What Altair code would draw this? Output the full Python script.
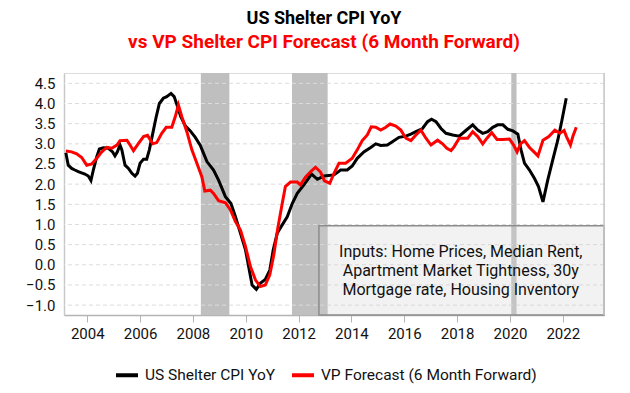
import altair as alt
import pandas as pd

# ---- data ----
cpi_year = [2003.19, 2003.28, 2003.41, 2003.53, 2003.66, 2003.91, 2004.04, 2004.14, 2004.23, 2004.36,
            2004.46, 2004.61, 2004.80, 2004.96, 2005.05, 2005.14, 2005.24, 2005.31, 2005.43, 2005.56,
            2005.69, 2005.81, 2005.90, 2006.00, 2006.13, 2006.25, 2006.35, 2006.48, 2006.61, 2006.73,
            2006.88, 2007.01, 2007.17, 2007.29, 2007.42, 2007.54, 2007.71, 2007.90, 2008.09, 2008.28,
            2008.43, 2008.53, 2008.78, 2008.97, 2009.23, 2009.44, 2009.61, 2009.80, 2009.99, 2010.11,
            2010.24, 2010.40, 2010.55, 2010.74, 2010.91, 2011.04, 2011.19, 2011.38, 2011.57, 2011.76,
            2011.95, 2012.20, 2012.49, 2012.71, 2012.96, 2013.34, 2013.59, 2013.84, 2014.03, 2014.22,
            2014.47, 2014.73, 2014.92, 2015.11, 2015.36, 2015.55, 2015.80, 2016.06, 2016.25, 2016.44,
            2016.69, 2016.88, 2017.03, 2017.20, 2017.39, 2017.58, 2017.83, 2018.08, 2018.33, 2018.59,
            2018.78, 2018.97, 2019.16, 2019.35, 2019.54, 2019.73, 2019.92, 2020.11, 2020.30, 2020.42,
            2020.55, 2020.74, 2020.93, 2021.08, 2021.25, 2021.43, 2021.62, 2021.81, 2021.97, 2022.13]
cpi_value = [2.78, 2.47, 2.39, 2.35, 2.31, 2.25, 2.20, 2.09, 2.35, 2.68,
             2.87, 2.90, 2.89, 2.80, 2.70, 2.80, 2.97, 2.85, 2.47, 2.39,
             2.27, 2.20, 2.27, 2.52, 2.62, 2.62, 2.85, 3.26, 3.67, 4.00,
             4.13, 4.17, 4.25, 4.17, 3.92, 3.67, 3.45, 3.32, 3.16, 2.96,
             2.72, 2.56, 2.35, 2.10, 1.69, 1.52, 1.19, 0.78, 0.37, -0.05,
             -0.50, -0.61, -0.46, -0.36, -0.13, 0.37, 0.78, 0.99, 1.19, 1.52,
             1.77, 1.98, 2.25, 2.12, 2.20, 2.23, 2.35, 2.35, 2.45, 2.64,
             2.80, 2.91, 3.00, 2.96, 2.97, 3.05, 3.16, 3.19, 3.24, 3.30,
             3.38, 3.55, 3.61, 3.55, 3.38, 3.26, 3.22, 3.19, 3.33, 3.47,
             3.34, 3.26, 3.30, 3.41, 3.47, 3.47, 3.36, 3.32, 3.24, 2.85,
             2.52, 2.35, 2.14, 1.94, 1.56, 2.10, 2.60, 3.09, 3.59, 4.13]

vp_year = [2003.19, 2003.41, 2003.60, 2003.79, 2003.98, 2004.17, 2004.36, 2004.55, 2004.74, 2004.93,
           2005.12, 2005.24, 2005.50, 2005.62, 2005.75, 2005.94, 2006.13, 2006.28, 2006.48, 2006.63,
           2006.82, 2006.99, 2007.20, 2007.33, 2007.45, 2007.58, 2007.77, 2007.96, 2008.15, 2008.34,
           2008.45, 2008.66, 2008.78, 2008.97, 2009.23, 2009.42, 2009.61, 2009.80, 2009.99, 2010.18,
           2010.37, 2010.55, 2010.74, 2010.91, 2011.06, 2011.22, 2011.38, 2011.50, 2011.69, 2011.95,
           2012.07, 2012.26, 2012.49, 2012.64, 2012.83, 2012.98, 2013.18, 2013.34, 2013.53, 2013.78,
           2014.03, 2014.22, 2014.41, 2014.60, 2014.75, 2014.92, 2015.11, 2015.30, 2015.46, 2015.68,
           2015.87, 2016.06, 2016.25, 2016.44, 2016.63, 2016.82, 2017.01, 2017.26, 2017.45, 2017.61,
           2017.77, 2017.89, 2018.08, 2018.40, 2018.59, 2018.78, 2018.97, 2019.13, 2019.31, 2019.51,
           2019.73, 2019.98, 2020.14, 2020.27, 2020.40, 2020.55, 2020.74, 2020.91, 2021.06, 2021.25,
           2021.47, 2021.70, 2021.89, 2022.05, 2022.14, 2022.29, 2022.38, 2022.51]
vp_value = [2.82, 2.80, 2.75, 2.66, 2.47, 2.50, 2.64, 2.80, 2.91, 2.89,
            2.97, 3.08, 3.09, 2.97, 2.83, 3.01, 3.18, 3.21, 3.00, 3.03,
            3.26, 3.41, 3.41, 3.67, 3.96, 3.67, 3.30, 2.85, 2.52, 2.18,
            1.83, 1.85, 1.77, 1.59, 1.54, 1.36, 1.07, 0.86, 0.45, -0.05,
            -0.38, -0.54, -0.50, -0.25, 0.24, 0.94, 1.52, 1.94, 2.05, 2.05,
            1.98, 2.17, 2.33, 2.42, 2.30, 2.08, 2.02, 2.27, 2.52, 2.52,
            2.64, 2.85, 3.08, 3.22, 3.42, 3.41, 3.34, 3.41, 3.49, 3.44,
            3.34, 3.14, 3.08, 3.22, 3.34, 3.14, 2.97, 3.09, 3.00, 2.89,
            2.83, 2.93, 3.14, 3.14, 3.30, 3.18, 3.00, 3.14, 3.28, 3.11,
            3.11, 3.12, 2.97, 2.80, 3.00, 3.08, 2.91, 2.80, 2.70, 3.09,
            3.18, 3.34, 3.26, 3.33, 3.18, 2.97, 3.18, 3.41]

series_names = ["US Shelter CPI YoY", "VP Forecast (6 Month Forward)"]
series_colors = ["#000000", "#ff0000"]

band_start = [2008.30, 2011.75, 2020.05]
band_end = [2009.38, 2013.10, 2020.25]

x_ticks = [2004, 2006, 2008, 2010, 2012, 2014, 2016, 2018, 2020, 2022]
y_ticks = [-1.0, -0.5, 0.0, 0.5, 1.0, 1.5, 2.0, 2.5, 3.0, 3.5, 4.0, 4.5]

X_MIN, X_MAX = 2003.12, 2023.56
Y_MIN, Y_MAX = -1.245, 4.756

box_x = [2012.77]
box_x2 = [X_MAX]
box_y = [0.97]
box_y2 = [Y_MIN]
note_x = [2018.14]
note_y = [0.325]
note_text = ["Inputs: Home Prices, Median Rent,\nApartment Market Tightness, 30y\nMortgage rate, Housing Inventory"]

# ---- tables ----
lines_df = pd.concat([
    pd.DataFrame({"year": cpi_year, "value": cpi_value, "series": series_names[0]}),
    pd.DataFrame({"year": vp_year, "value": vp_value, "series": series_names[1]}),
])
bands_df = pd.DataFrame({"start": band_start, "end": band_end})
grid_df = pd.DataFrame({"v": y_ticks})
box_df = pd.DataFrame({"x": box_x, "x2": box_x2, "y": box_y, "y2": box_y2})
note_df = pd.DataFrame({"x": note_x, "y": note_y, "t": note_text})

xscale = alt.Scale(domain=[X_MIN, X_MAX], nice=False, zero=False)
yscale = alt.Scale(domain=[Y_MIN, Y_MAX], nice=False, zero=False)
xaxis = alt.Axis(values=x_ticks, format="d", title=None, grid=False, tickSize=7,
                 tickColor="#b4b4b4", domainColor="#b4b4b4", domainWidth=1.5,
                 labelFontSize=15, labelPadding=4, labelColor="#111111", labelFont="Roboto")
yaxis = alt.Axis(values=y_ticks, format=".1f", title=None, grid=False, ticks=False,
                 domainColor="#c8c8c8", domainWidth=1.5, labelFontSize=15, labelPadding=9,
                 labelColor="#111111", labelFont="Roboto")

bands = alt.Chart(bands_df).mark_rect(color="#bfbfbf").encode(
    x=alt.X("start:Q", scale=xscale, axis=xaxis),
    x2="end:Q",
)

grid = alt.Chart(grid_df).mark_rule(color="#dcdcdc", strokeDash=[4, 3], strokeWidth=1).encode(
    y=alt.Y("v:Q", scale=yscale, axis=yaxis),
)

lines = alt.Chart(lines_df).mark_line(strokeWidth=3, interpolate="linear").encode(
    x=alt.X("year:Q", scale=xscale, axis=xaxis),
    y=alt.Y("value:Q", scale=yscale, axis=yaxis),
    color=alt.Color("series:N", sort=series_names,
                    scale=alt.Scale(domain=series_names, range=series_colors),
                    legend=alt.Legend(title=None, orient="none", direction="horizontal",
                                      legendX=50, legendY=289, symbolType="stroke",
                                      symbolSize=484, symbolStrokeWidth=4,
                                      labelFontSize=15.5, labelFont="Roboto", labelColor="#111111",
                                      labelOffset=5, columnPadding=8, labelLimit=400)),
    detail="series:N",
)

box = alt.Chart(box_df).mark_rect(fill="#d0d0d0", fillOpacity=0.28, stroke="#8c8c8c",
                                  strokeWidth=1.5).encode(
    x=alt.X("x:Q", scale=xscale, axis=xaxis), x2="x2:Q",
    y=alt.Y("y:Q", scale=yscale, axis=yaxis), y2="y2:Q",
)

note = alt.Chart(note_df).mark_text(font="Roboto", fontSize=16, color="#111111",
                                    lineBreak="\n", lineHeight=19, align="center",
                                    baseline="middle").encode(
    x=alt.X("x:Q", scale=xscale, axis=xaxis),
    y=alt.Y("y:Q", scale=yscale, axis=yaxis),
    text="t:N",
)

border = alt.Chart(pd.DataFrame({"x": [X_MAX]})).mark_rule(color="#c8c8c8", strokeWidth=1.5).encode(
    x=alt.X("x:Q", scale=xscale, axis=xaxis),
)

chart = alt.layer(bands, grid, box, lines, note, border).properties(
    width=540,
    height=242,
    autosize=alt.AutoSizeParams(type="none"),
    padding={"left": 56, "top": 65, "right": 18, "bottom": 70},
    title=alt.TitleParams(
        text="US Shelter CPI YoY",
        subtitle="vs VP Shelter CPI Forecast (6 Month Forward)",
        font="Roboto", fontSize=18, fontWeight="bold", color="#000000",
        subtitleFont="Roboto", subtitleFontSize=19, subtitleFontWeight="bold",
        subtitleColor="#ff0000", subtitlePadding=5, anchor="middle", dx=-10, offset=20,
    ),
).configure_view(stroke=None).configure(font="Roboto")

chart.save("out.html", embed_options={"renderer": "svg", "actions": False})
